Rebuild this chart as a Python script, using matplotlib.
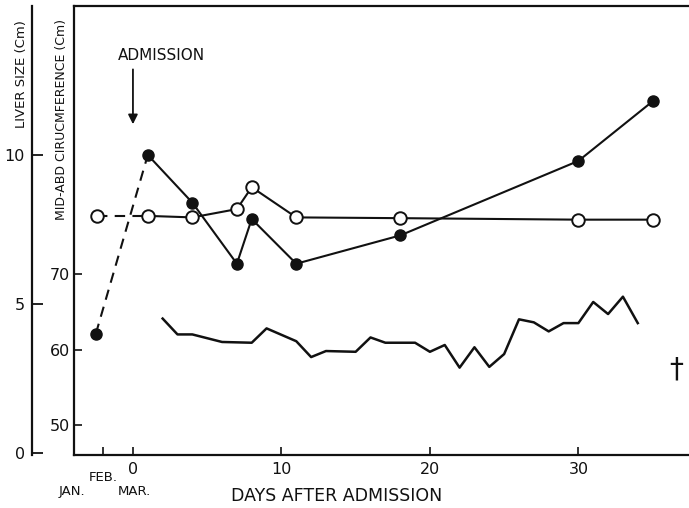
import matplotlib
matplotlib.use('Agg')
import matplotlib.pyplot as plt

# Tamaño del higado (cm), circulos llenos
dias_higado = [-2.5, 1, 4, 7, 8, 11, 18, 30, 35]
higado_cm = [4.0, 10.0, 8.4, 6.35, 7.85, 6.35, 7.3, 9.8, 11.8]

# Circunferencia abdominal media (cm), circulos abiertos
dias_circ = [-2.4, 1, 4, 7, 8, 11, 18, 30, 35]
circ_cm = [77.7, 77.7, 77.5, 78.6, 81.5, 77.5, 77.4, 77.2, 77.2]

# Serie diaria sin marcadores (escala de circunferencia)
dias_diaria = [2, 3, 4, 6, 8, 9, 11, 12, 13, 15, 16, 17, 19, 20, 21, 22, 23, 24,
               25, 26, 27, 28, 29, 30, 31, 32, 33, 34]
valores_diaria = [64.1, 62.0, 62.0, 61.0, 60.9, 62.8, 61.1, 59.0, 59.8, 59.7, 61.6,
                  60.9, 60.9, 59.7, 60.6, 57.6, 60.3, 57.7, 59.4, 64.0, 63.6, 62.4,
                  63.5, 63.5, 66.3, 64.7, 67.0, 63.5]

ticks_x = [0, 10, 20, 30]
ticks_higado = [0, 5, 10]
ticks_circ = [50, 60, 70]

W, H = 689, 508
fig = plt.figure(figsize=(W / 100, H / 100), dpi=100)
ax = fig.add_axes([74 / W, 53 / H, 615 / W, 449 / H])
ax2 = ax.twinx()

negro = '#111111'

# --- eje del higado (exterior) ---
ax.set_xlim(-3.97, 37.45)
ax.set_ylim(-0.07, 15.0)
ax.spines['right'].set_visible(False)
ax.spines['left'].set_position(('axes', -42 / 615))
for s in ['left', 'top', 'bottom']:
    ax.spines[s].set_linewidth(1.6)
    ax.spines[s].set_color(negro)
ax.set_yticks(ticks_higado)
ax.set_yticklabels([str(t) for t in ticks_higado])
ax.tick_params(axis='y', direction='in', length=8, width=1.3, pad=5,
               labelsize=11.5, colors=negro)
ax.set_xticks([-2] + ticks_x)
ax.set_xticklabels([''] + [str(t) for t in ticks_x])
ax.tick_params(axis='x', direction='in', length=6, width=1.2, pad=5,
               labelsize=11.5, colors=negro)

# --- eje de circunferencia (interior) ---
ax2.set_ylim(46.03, 105.5)
for s in ['right', 'top', 'bottom']:
    ax2.spines[s].set_visible(False)
ax2.spines['left'].set_visible(True)
ax2.spines['left'].set_linewidth(1.6)
ax2.spines['left'].set_color(negro)
ax2.yaxis.tick_left()
ax2.set_yticks(ticks_circ)
ax2.set_yticklabels([str(t) for t in ticks_circ])
ax2.tick_params(axis='y', direction='in', length=6, width=1.2, pad=3,
                labelsize=11.5, colors=negro)

# --- higado ---
ax.plot(dias_higado[:2], higado_cm[:2], color=negro, lw=1.5, ls=(0, (5, 3.5)))
ax.plot(dias_higado[1:], higado_cm[1:], color=negro, lw=1.5)
ax.plot(dias_higado, higado_cm, 'o', ms=8, color=negro, zorder=3)

# --- circunferencia ---
ax2.plot(dias_circ[:2], circ_cm[:2], color=negro, lw=1.5, ls=(0, (5, 3.5)))
ax2.plot(dias_circ[1:], circ_cm[1:], color=negro, lw=1.5)
ax2.plot(dias_circ, circ_cm, 'o', ms=9, mfc='white', mec=negro, mew=1.4, zorder=4)

# --- serie diaria ---
ax2.plot(dias_diaria, valores_diaria, color=negro, lw=1.8)

# textos del eje x
trx = ax.get_xaxis_transform()
ax.text(-2, -0.049, 'FEB.', transform=trx, ha='center', va='center', fontsize=9.5, color=negro)
ax.text(-4.1, -0.082, 'JAN.', transform=trx, ha='center', va='center', fontsize=9.5, color=negro)
ax.text(0.1, -0.082, 'MAR.', transform=trx, ha='center', va='center', fontsize=9.5, color=negro)
fig.text(337 / W, 1 - 496 / H, 'DAYS AFTER ADMISSION', ha='center', va='center',
         fontsize=12.5, color=negro)

# etiquetas verticales
fig.text(22 / W, 1 - 74 / H, 'LIVER SIZE (Cm)', rotation=90, ha='center', va='center',
         fontsize=9.5, color=negro)
fig.text(61 / W, 1 - 120 / H, 'MID-ABD CIRUCMFERENCE (Cm)', rotation=90, ha='center',
         va='center', fontsize=9, color=negro)

# ingreso
ax.annotate('', xy=(0, 0.7305), xytext=(0, 0.865), xycoords=trx, textcoords=trx,
            arrowprops=dict(arrowstyle='-|>', color=negro, lw=1.3, mutation_scale=14))
ax.text(1.9, 0.889, 'ADMISSION', transform=trx, ha='center', va='center',
        fontsize=11, color=negro)

# fallecimiento
ax.text(36.6, 0.19, '\u2020', transform=trx, ha='center', va='center',
        fontsize=20, color=negro)

fig.savefig('out.png', dpi=100)
